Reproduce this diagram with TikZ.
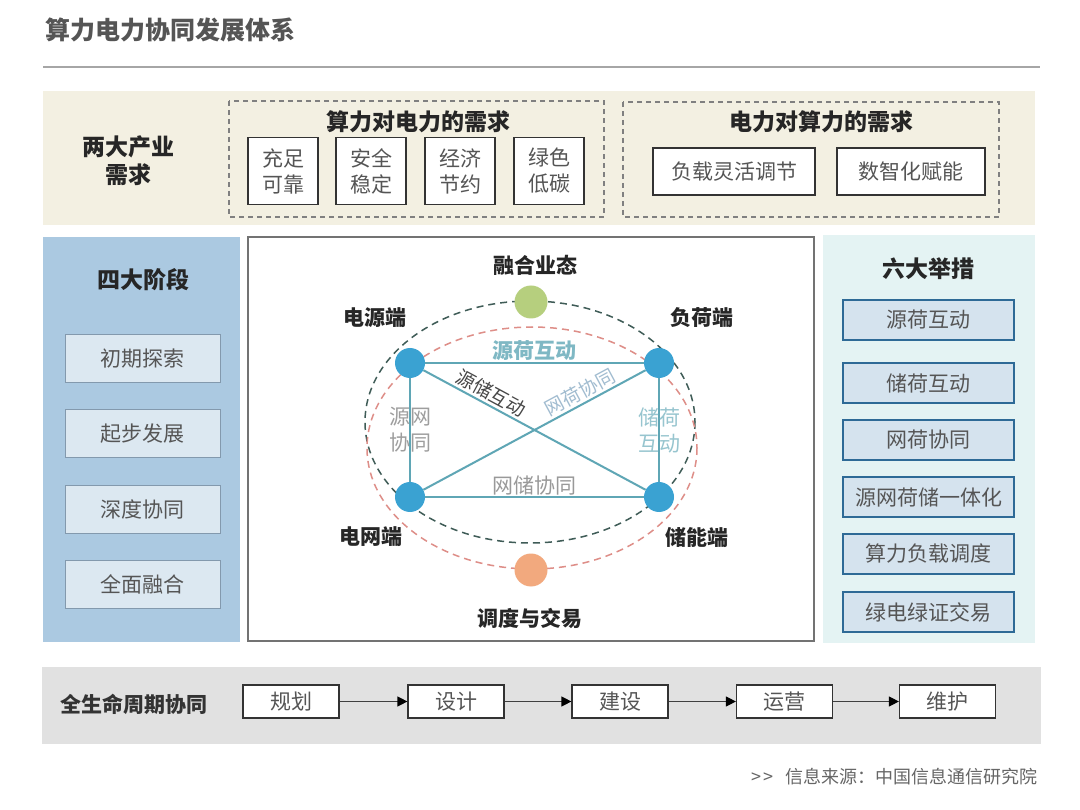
\documentclass[tikz,border=0pt]{standalone}
\usepackage{fontspec}
\setmainfont{Noto Sans CJK SC}
\usepackage{tikz}
\usetikzlibrary{arrows.meta,positioning,calc}
\usepackage{xcolor}
\definecolor{txtgray}{HTML}{555555}
\definecolor{beige}{HTML}{F3F0E2}
\definecolor{leftblue}{HTML}{ABC9E1}
\definecolor{stagefill}{HTML}{DCE8F1}
\definecolor{stageline}{HTML}{8399AD}
\definecolor{rightteal}{HTML}{E4F3F3}
\definecolor{stepfill}{HTML}{D5E3EE}
\definecolor{stepline}{HTML}{2E6A96}
\definecolor{nodeblue}{HTML}{3AA2D2}
\definecolor{dotgreen}{HTML}{B6CF7E}
\definecolor{dotorange}{HTML}{F2A97E}
\definecolor{ringdark}{HTML}{3F5C57}
\definecolor{ringred}{HTML}{DE8E88}
\definecolor{linkteal}{HTML}{5FA6B5}
\definecolor{bandgray}{HTML}{E1E1E1}

\begin{document}
\begin{tikzpicture}[x=1pt,y=-1pt,
	hd/.style={font=\bfseries\fontsize{23}{28}\selectfont, text=black!85, align=center},
	tx/.style={font=\fontsize{21}{26}\selectfont, text=txtgray, align=center},
	needbox/.style={tx, draw=black!80, line width=1.2pt, fill=white, minimum width=70, minimum height=67, inner sep=0pt},
	widebox/.style={tx, draw=black!80, line width=1.2pt, fill=white, minimum height=47, inner sep=0pt},
	stagebox/.style={tx, draw=stageline, line width=1pt, fill=stagefill, minimum width=155, minimum height=48, inner sep=0pt},
	movebox/.style={tx, draw=stepline, line width=2pt, fill=stepfill, minimum width=171, minimum height=40, inner sep=0pt},
	lifebox/.style={tx, draw=black!80, line width=1.2pt, fill=white, minimum width=96, minimum height=33, inner sep=0pt},
	endnode/.style={circle, fill=nodeblue, minimum size=30, inner sep=0pt},
	endlbl/.style={font=\bfseries\fontsize{21}{26}\selectfont, text=black!85},
	link/.style={draw=linkteal, line width=2pt},
	lk/.style={font=\fontsize{21}{26}\selectfont, inner sep=1pt, align=center},
	slk/.style={font=\fontsize{19}{23}\selectfont, inner sep=2pt, sloped, above}
	]

		\useasboundingbox (0,0) rectangle (1080,810);
		\fill[white] (0,0) rectangle (1080,810);

		\node[anchor=west, font=\bfseries\fontsize{25}{30}\selectfont, text=txtgray] (title) at (42,30) {算力电力协同发展体系};
		\draw[black!35, line width=1.5pt] (43,67) -- (1040,67);

		\fill[beige] (43,91) rectangle (1035,225);
		\node[hd] (need) at (128,161) {两大产业\\需求};

		\draw[black!50, line width=1.2pt, dash pattern=on 5pt off 4pt] (229,101) rectangle (604,217);
		\node[hd] (needA) at (418,122) {算力对电力的需求};
		\node[needbox] (n1) at (283,171) {充足\\可靠};
		\node[needbox] (n2) at (371,171) {安全\\稳定};
		\node[needbox] (n3) at (460,171) {经济\\节约};
		\node[needbox] (n4) at (549,171) {绿色\\低碳};

		\draw[black!50, line width=1.2pt, dash pattern=on 5pt off 4pt] (623,102) rectangle (999,217);
		\node[hd] (needB) at (821,122) {电力对算力的需求};
		\node[widebox, minimum width=162] (n5) at (734,171.5) {负载灵活调节};
		\node[widebox, minimum width=148] (n6) at (911,171.5) {数智化赋能};

		\fill[leftblue] (43,237) rectangle (240,642);
		\node[hd] (stage) at (143,280) {四大阶段};
		\node[stagebox] (s1) at (142.5,359) {初期探索};
		\node[stagebox] (s2) at (142.5,434) {起步发展};
		\node[stagebox] (s3) at (142.5,509) {深度协同};
		\node[stagebox] (s4) at (142.5,584) {全面融合};

		\fill[rightteal] (823,235) rectangle (1035,643);
		\node[hd] (move) at (928,269) {六大举措};
		\node[movebox] (m1) at (928.5,320) {源荷互动};
		\node[movebox] (m2) at (928.5,383) {储荷互动};
		\node[movebox] (m3) at (928.5,440) {网荷协同};
		\node[movebox] (m4) at (928.5,497) {源网荷储一体化};
		\node[movebox] (m5) at (928.5,554) {算力负载调度};
		\node[movebox] (m6) at (928.5,612) {绿电绿证交易};

		\draw[black!55, line width=1.2pt, fill=white] (248,237) rectangle (814,641);

		\draw[ringdark, line width=1.5pt, dash pattern=on 7pt off 5pt] (530,422) ellipse [x radius=165, y radius=121];
		\draw[ringred, line width=1.5pt, dash pattern=on 7pt off 5pt] (532,448) ellipse [x radius=165, y radius=121];

		\node[endnode] (src) at (410,363) {};
		\node[endnode] (load) at (659,363) {};
		\node[endnode] (grid) at (410,497) {};
		\node[endnode] (stor) at (659,497) {};

		\draw[link] (src) -- node[lk, above, font=\bfseries\fontsize{21}{26}\selectfont, text=linkteal!80!white] {源荷互动} (load);
		\draw[link] (grid) -- node[lk, above, text=black!40] {网储协同} (stor);
		\draw[link] (src) -- node[lk, text=black!38] {源网\\协同} (grid);
		\draw[link] (load) -- node[lk, text=linkteal!65!white] {储荷\\互动} (stor);
		\draw[link] (src) -- node[slk, pos=0.28, text=black!72] {源储互动} (stor);
		\draw[link] (grid) -- node[slk, pos=0.73, text=stepline!45!white] {网荷协同} (load);

		\node[circle, fill=dotgreen, minimum size=33, inner sep=0pt] (biz) at (531,302) {};
		\node[circle, fill=dotorange, minimum size=33, inner sep=0pt] (trade) at (531,570) {};

		\node[endlbl] (bizl) at (535,265) {融合业态};
		\node[endlbl] (tradel) at (530,618) {调度与交易};
		\node[endlbl] (srcl) at (375,318) {电源端};
		\node[endlbl] (loadl) at (702,318) {负荷端};
		\node[endlbl] (gridl) at (371,537) {电网端};
		\node[endlbl] (storl) at (697,537) {储能端};

		\fill[bandgray] (42,667) rectangle (1041,744);
		\node[font=\bfseries\fontsize{21}{26}\selectfont, text=black!80] (life) at (134,704) {全生命周期协同};
		\node[lifebox] (plan) at (291,701.5) {规划};
		\node[lifebox] (design) at (456,701.5) {设计};
		\node[lifebox] (build) at (620,701.5) {建设};
		\node[lifebox] (run) at (784.5,701.5) {运营};
		\node[lifebox] (keep) at (947.5,701.5) {维护};

		\draw[black!75, line width=1.2pt, -{Triangle[length=10pt,width=10pt,color=black]}] (plan) -- (design);
		\draw[black!75, line width=1.2pt, -{Triangle[length=10pt,width=10pt,color=black]}] (design) -- (build);
		\draw[black!75, line width=1.2pt, -{Triangle[length=10pt,width=10pt,color=black]}] (build) -- (run);
		\draw[black!75, line width=1.2pt, -{Triangle[length=10pt,width=10pt,color=black]}] (run) -- (keep);

		\node[anchor=east, font=\fontsize{18}{22}\selectfont, text=black!60] (srcnote) at (1041,777) {{>}\kern2pt{>}\hspace{12pt}信息来源：中国信息通信研究院};
	\end{tikzpicture}
\end{document}
